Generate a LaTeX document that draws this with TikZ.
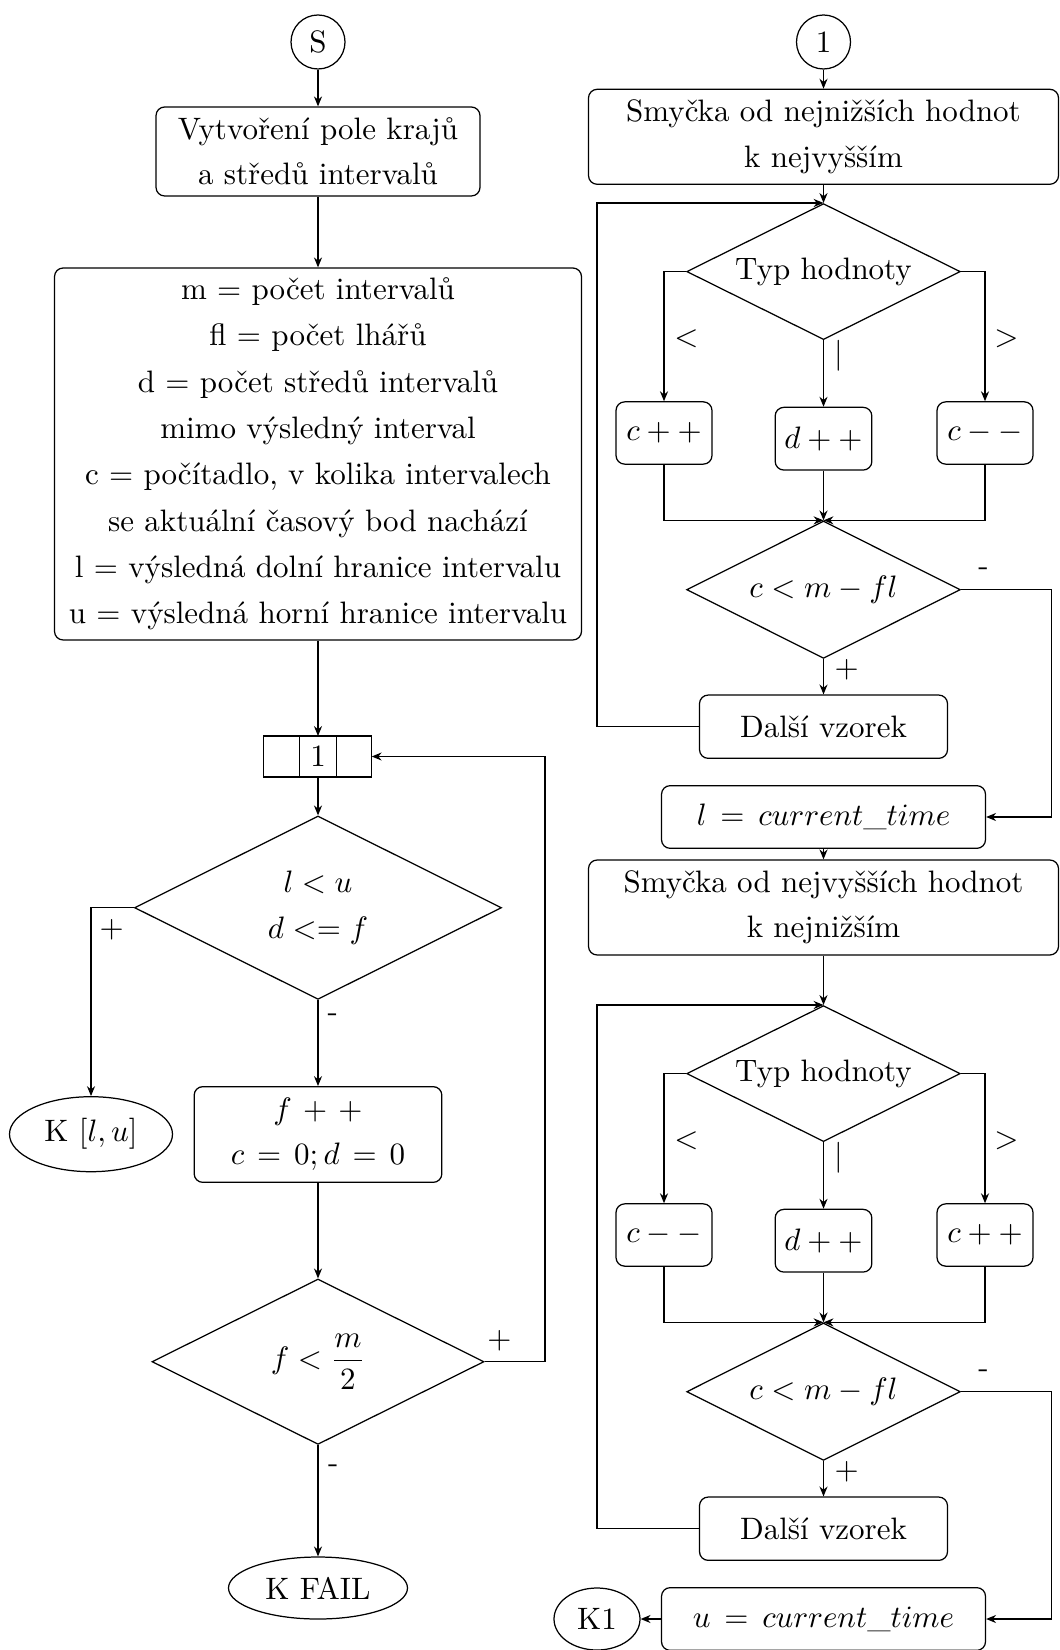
\documentclass[tikz,border=0pt]{standalone}
\usepackage{fontspec}
\usetikzlibrary{shapes.geometric,arrows.meta}
\begin{document}
\begin{tikzpicture}[x=0.3226pt,y=-0.3226pt,
  every node/.style={font={\linespread{1.22}\selectfont}, align=center, inner sep=0pt},
  wd/.style={minimum width=#1*0.3226pt},
  hg/.style={minimum height=#1*0.3226pt},
  proc/.style={draw, rounded corners=2.8pt},
  dec/.style={draw, diamond, aspect=2},
  term/.style={draw, ellipse},
  startnode/.style={draw, circle, minimum size=54*0.3226pt},
  cell/.style={draw, rectangle, outer sep=0pt, minimum height=41*0.3226pt},
  lbl/.style={inner sep=0pt},
  arr/.style={-{Stealth[length=3.2pt,width=2.6pt]}},
]
\useasboundingbox (0,0) rectangle (1059,1650);

% ---------------- left column ----------------
\node[startnode] (S) at (318,42) {S};
\node[proc, wd=324, hg=89] (init) at (318,151.5) {Vytvoření pole krajů\\a středů intervalů};
\node[proc, wd=527, hg=372, font={\linespread{1.245}\selectfont}] (vars) at (318,454) {m = počet intervalů\\
  fl = počet lhářů\\
  d = počet středů intervalů\\
  mimo výsledný interval\\
  c = počítadlo, v kolika intervalech\\
  se aktuální časový bod nachází\\
  l = výsledná dolní hranice intervalu\\
  u = výsledná horní hranice intervalu};
\node[cell, wd=37.4] (conn) at (318,756.5) {1};
\node[cell, wd=36, anchor=east] (connL) at (conn.west) {};
\node[cell, wd=35, anchor=west] (connR) at (conn.east) {};
\node[dec, wd=367, hg=183.4] (dec1) at (318,907.7) {$l < u$\\$d <= f$};
\node[term, wd=163, hg=75] (kres) at (91,1134.2) {K $[l,u]$};
\node[proc, wd=247.7, hg=95.7] (upd) at (318,1134.5)
  {$f\mkern2.5mu+\mkern2.5mu+$\\$c\mkern2.5mu=\mkern2.5mu0; d\mkern2.5mu=\mkern2.5mu0$};
\node[dec, wd=332, hg=165.4] (dec2) at (318,1361.7) {$f < {\displaystyle\frac{m}{2}}$};
\node[term, wd=179, hg=62] (kfail) at (318,1588) {K FAIL};

\coordinate (lr) at (545,0);

\draw[arr] (S) -- (init);
\draw[arr] (init) -- (vars);
\draw[arr] (vars) -- (conn);
\draw[arr] (conn) -- (dec1);
\draw[arr] (dec1.west) -| (kres.north);
\draw[arr] (dec1) -- (upd);
\draw[arr] (upd) -- (dec2);
\draw[arr] (dec2.east) -| (lr |- connR.east) -- (connR.east);
\draw[arr] (dec2) -- (kfail);

\node[lbl] (l1) at (111.7,930) {$+$};
\node[lbl] (l2) at (332.7,1018) {-};
\node[lbl] (l3) at (499.3,1341) {$+$};
\node[lbl] (l4) at (333.3,1469) {-};

% ---------------- right column ----------------
\node[startnode] (one) at (823.5,42) {1};
\node[proc, wd=470, hg=95] (loop1) at (823.5,136.8) {Smyčka od nejnižších hodnot\\k nejvyšším};
\node[dec, wd=273.6, hg=136] (typ1) at (823.5,271.6) {Typ hodnoty};
\node[proc, wd=96, hg=62.3] (cpp1) at (664,433) {$c++$};
\node[proc, wd=96.7, hg=62.7] (dpp1) at (823.5,438.7) {$d++$};
\node[proc, wd=96, hg=62.3] (cmm1) at (985,433) {$c--$};
\node[dec, wd=273.6, hg=137.4] (cond1) at (823.5,589.7) {$c < m - fl$};
\node[proc, wd=248, hg=63.3] (next1) at (823.5,726.7) {Další vzorek};
\node[proc, wd=324, hg=62.7] (lset) at (823.5,817) {$l\,=\,current\_time$};

\node[proc, wd=470, hg=95] (loop2) at (823.5,907.5) {Smyčka od nejvyšších hodnot\\k nejnižším};
\node[dec, wd=273.6, hg=136] (typ2) at (823.5,1073.6) {Typ hodnoty};
\node[proc, wd=96, hg=62.3] (cmm2) at (664,1235) {$c--$};
\node[proc, wd=96.7, hg=62.7] (dpp2) at (823.5,1240.7) {$d++$};
\node[proc, wd=96, hg=62.3] (cpp2) at (985,1235) {$c++$};
\node[dec, wd=273.6, hg=137.4] (cond2) at (823.5,1391.7) {$c < m - fl$};
\node[proc, wd=248, hg=63.3] (next2) at (823.5,1528.7) {Další vzorek};
\node[proc, wd=324, hg=62.7] (uset) at (823.5,1619) {$u\,=\,current\_time$};
\node[term, wd=86, hg=62] (k1) at (597,1619) {K1};

\coordinate (rr) at (1051.7,0);
\coordinate (ll) at (597,0);

% first loop
\draw[arr] (one) -- (loop1);
\draw[arr] (loop1) -- (typ1);
\draw[arr] (typ1.west) -| (cpp1.north);
\draw[arr] (typ1.south) -- (dpp1.north);
\draw[arr] (typ1.east) -| (cmm1.north);
\draw[arr] (cpp1.south) |- (cond1.north);
\draw[arr] (dpp1.south) -- (cond1.north);
\draw[arr] (cmm1.south) |- (cond1.north);
\draw[arr] (cond1.south) -- (next1.north);
\draw[arr] (next1.west) -| (ll |- typ1.north) -- (typ1.north);
\draw[arr] (cond1.east) -| (rr |- lset.east) -- (lset.east);
\draw[arr] (lset) -- (loop2);

% second loop
\draw[arr] (loop2) -- (typ2);
\draw[arr] (typ2.west) -| (cmm2.north);
\draw[arr] (typ2.south) -- (dpp2.north);
\draw[arr] (typ2.east) -| (cpp2.north);
\draw[arr] (cmm2.south) |- (cond2.north);
\draw[arr] (dpp2.south) -- (cond2.north);
\draw[arr] (cpp2.south) |- (cond2.north);
\draw[arr] (cond2.south) -- (next2.north);
\draw[arr] (next2.west) -| (ll |- typ2.north) -- (typ2.north);
\draw[arr] (cond2.east) -| (rr |- uset.east) -- (uset.east);
\draw[arr] (uset) -- (k1);

\node[lbl] (a1) at (686.4,339) {$<$};
\node[lbl] (a2) at (839,356) {$|$};
\node[lbl] (a3) at (1006.4,339) {$>$};
\node[lbl] (a4) at (983.5,572) {-};
\node[lbl] (a5) at (846.7,670) {$+$};
\node[lbl] (b1) at (686.4,1141) {$<$};
\node[lbl] (b2) at (839,1158) {$|$};
\node[lbl] (b3) at (1006.4,1141) {$>$};
\node[lbl] (b4) at (983.5,1374) {-};
\node[lbl] (b5) at (846.7,1472) {$+$};
\end{tikzpicture}
\end{document}
